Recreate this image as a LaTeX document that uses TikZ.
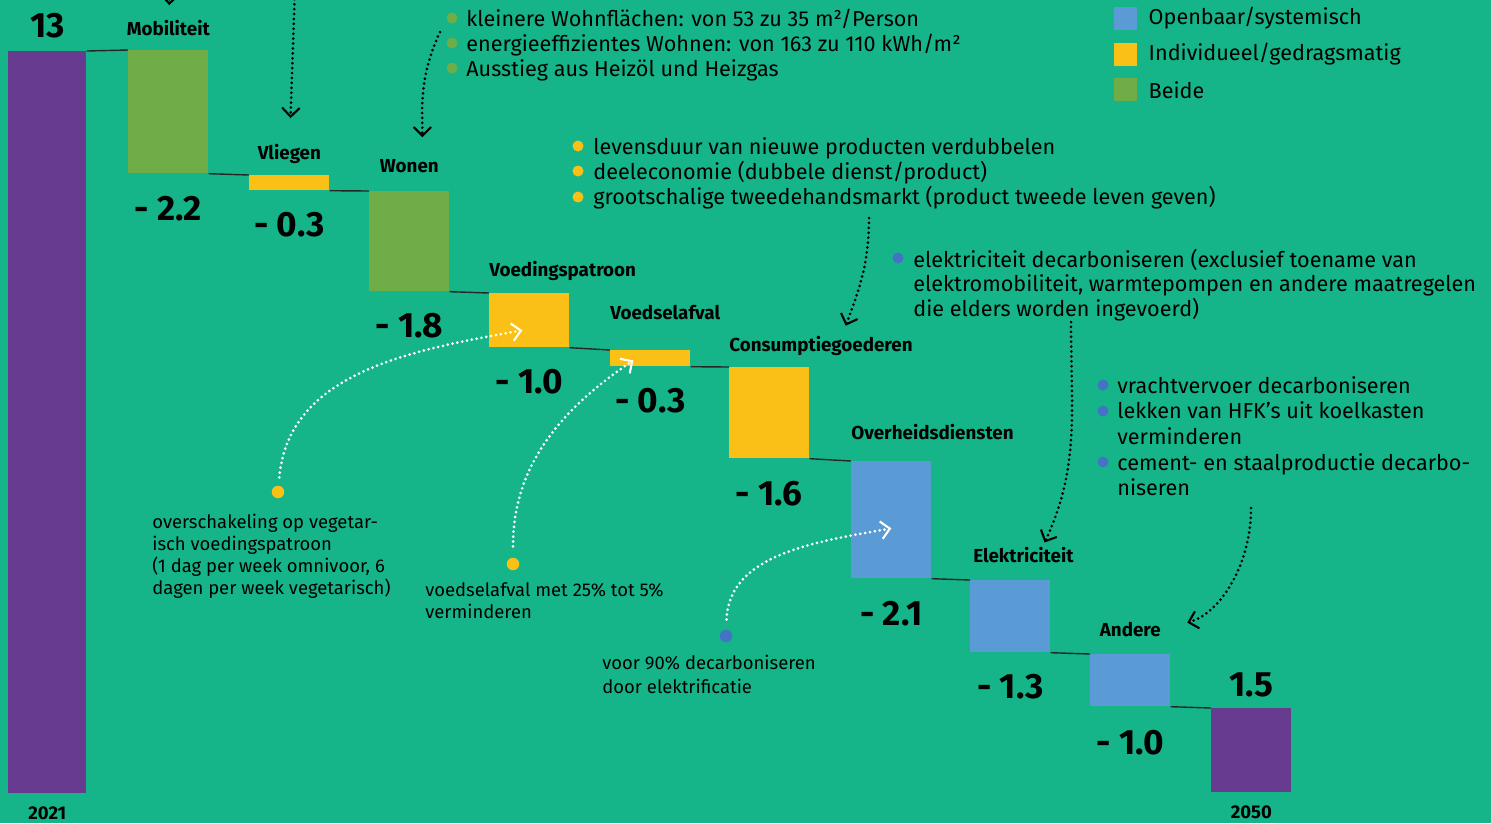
\documentclass[tikz,border=0pt]{standalone}
\usepackage{fontspec}
\setmainfont{Fira Sans}
\usetikzlibrary{positioning}
\usetikzlibrary{arrows.meta}
\definecolor{achter}{HTML}{16B589}
\definecolor{paars}{HTML}{673B8F}
\definecolor{groen}{HTML}{70AD47}
\definecolor{geel}{HTML}{FBC015}
\definecolor{blauw}{HTML}{5B9BD5}
\definecolor{stip}{HTML}{4472C4}
\tikzstyle{bar} = [rectangle, inner sep=0pt, minimum width=1.6cm, anchor=north west]
\tikzstyle{catlabel} = [inner sep=0pt, text depth=0pt, font=\bfseries\fontsize{10.7}{12}\selectfont]
\tikzstyle{amount} = [inner sep=0pt, font=\bfseries\fontsize{20}{24}\selectfont]
\tikzstyle{year} = [inner sep=0pt, font=\bfseries\fontsize{10.5}{12}\selectfont]
\tikzstyle{link} = [line width=0.8pt, black!85]
\tikzstyle{listtext} = [inner sep=0pt, anchor=north west, align=left, font=\fontsize{12.3}{14.2}\selectfont]
\tikzstyle{notetext} = [inner sep=0pt, anchor=north west, align=left, font=\fontsize{10.5}{12.5}\selectfont]
\tikzstyle{bullet} = [circle, inner sep=0pt, minimum size=0.22cm]
\tikzstyle{legbox} = [rectangle, inner sep=0pt, minimum size=0.46cm]
\tikzstyle{legtext} = [inner sep=0pt, anchor=west, font=\fontsize{12.3}{14}\selectfont]
\tikzstyle{pointer} = [line width=1.7pt, dash pattern=on 0pt off 2.8pt, line cap=round, -{Straight Barb[length=5pt, width=10pt, line width=1.2pt]}]
\tikzstyle{wpointer} = [pointer, white]
\begin{document}
\begin{tikzpicture}[x=0.02cm, y=0.02cm]

\useasboundingbox (0,0) rectangle (1491,-823);
\fill [achter] (0,0) rectangle (1491,-823);

\node (bar1) [bar, fill=paars, minimum width=1.56cm, minimum height=14.84cm] at (8,-51) {};

\node (bar2) [bar, fill=groen, minimum height=2.46cm] at (128,-50) {};

\node (bar3) [bar, fill=geel, minimum height=0.30cm] at (249,-175) {};

\node (bar4) [bar, fill=groen, minimum height=2.0cm] at (369,-191) {};

\node (bar5) [bar, fill=geel, minimum height=1.08cm] at (489,-293) {};

\node (bar6) [bar, fill=geel, minimum height=0.32cm] at (610,-350) {};

\node (bar7) [bar, fill=geel, minimum height=1.82cm] at (729,-367) {};

\node (bar8) [bar, fill=blauw, minimum height=2.34cm] at (851,-461) {};

\node (bar9) [bar, fill=blauw, minimum height=1.44cm] at (970,-580) {};

\node (bar10) [bar, fill=blauw, minimum height=1.04cm] at (1090,-654) {};

\node (bar11) [bar, fill=paars, minimum height=1.68cm] at (1211,-708) {};

\draw [link] (bar1.north east) -- (bar2.north west);
\draw [link] (bar2.south east) -- (bar3.north west);
\draw [link] (bar3.south east) -- (bar4.north west);
\draw [link] (bar4.south east) -- (bar5.north west);
\draw [link] (bar5.south east) -- (bar6.north west);
\draw [link] (bar6.south east) -- (bar7.north west);
\draw [link] (bar7.south east) -- (bar8.north west);
\draw [link] (bar8.south east) -- (bar9.north west);
\draw [link] (bar9.south east) -- (bar10.north west);
\draw [link] (bar10.south east) -- (bar11.north west);

\node (lab1) [amount, above=0.26cm of bar1] {13};
\node (yr1) [year, below=0.25cm of bar1] {2021};
\node (lab2) [catlabel, above=0.28cm of bar2] {Mobiliteit};
\node (lab3) [catlabel, above=0.3cm of bar3] {Vliegen};
\node (lab4) [catlabel, above=0.36cm of bar4] {Wonen};
\node (lab5) [catlabel, above right=0.32cm and 0cm of bar5.north west] {Voedingspatroon};
\node (lab6) [catlabel, above right=0.6cm and 0cm of bar6.north west] {Voedselafval};
\node (lab7) [catlabel, above right=0.3cm and 0cm of bar7.north west] {Consumptiegoederen};
\node (lab8) [catlabel, above right=0.42cm and 0cm of bar8.north west] {Overheidsdiensten};
\node (lab9) [catlabel, above right=0.34cm and 0.06cm of bar9.north west] {Elektriciteit};
\node (lab10) [catlabel, above=0.34cm of bar10] {Andere};
\node (lab11) [amount, above=0.22cm of bar11] {1.5};
\node (yr11) [year, below=0.25cm of bar11] {2050};

\node (val2) [amount, below=0.44cm of bar2] {- 2.2};
\node (val3) [amount, below=0.42cm of bar3] {- 0.3};
\node (val4) [amount, below=0.42cm of bar4] {- 1.8};
\node (val5) [amount, below=0.42cm of bar5] {- 1.0};
\node (val6) [amount, below=0.42cm of bar6] {- 0.3};
\node (val7) [amount, below=0.44cm of bar7] {- 1.6};
\node (val8) [amount, below=0.44cm of bar8] {- 2.1};
\node (val9) [amount, below=0.42cm of bar9] {- 1.3};
\node (val10) [amount, below=0.46cm of bar10] {- 1.0};

\node (leg1) [legbox, fill=blauw] at (1125.5,-18.5) {};
\node (leg2) [legbox, fill=geel, below=0.24cm of leg1] {};
\node (leg3) [legbox, fill=groen, below=0.24cm of leg2] {};
\node (legt1) [legtext, right=0.22cm of leg1] {Openbaar/systemisch};
\node (legt2) [legtext, right=0.22cm of leg2] {Individueel/gedragsmatig};
\node (legt3) [legtext, right=0.22cm of leg3] {Beide};

\node (won) [listtext] at (466,-9) {kleinere Wohnflächen: von 53 zu 35 m²/Person\\energieeffizientes Wohnen: von 163 zu 110 kWh/m²\\Ausstieg aus Heizöl und Heizgas};
\node (won1) [bullet, fill=groen] at (452,-18) {};
\node (won2) [bullet, fill=groen] at (452,-43) {};
\node (won3) [bullet, fill=groen] at (452,-68) {};

\node (cons) [listtext] at (593,-137) {levensduur van nieuwe producten verdubbelen\\deeleconomie (dubbele dienst/product)\\grootschalige tweedehandsmarkt (product tweede leven geven)};
\node (cons1) [bullet, fill=geel] at (578,-146) {};
\node (cons2) [bullet, fill=geel] at (578,-171) {};
\node (cons3) [bullet, fill=geel] at (578,-197) {};

\node (elek) [listtext, font=\fontsize{12.3}{13.8}\selectfont] at (913,-249) {elektriciteit decarboniseren (exclusief toename van\\elektromobiliteit, warmtepompen en andere maatregelen\\die elders worden ingevoerd)};
\node (elek1) [bullet, fill=stip] at (898,-258) {};

\node (rest) [listtext, font=\fontsize{12.3}{14.6}\selectfont] at (1117,-376) {vrachtvervoer decarboniseren\\lekken van HFK’s uit koelkasten\\verminderen\\cement- en staalproductie decarbo-\\niseren};
\node (rest1) [bullet, fill=stip] at (1103,-385) {};
\node (rest2) [bullet, fill=stip] at (1103,-411) {};
\node (rest3) [bullet, fill=stip] at (1103,-462) {};

\node (veg) [notetext] at (152,-514) {overschakeling op vegetar-\\isch voedingspatroon\\(1 dag per week omnivoor, 6\\dagen per week vegetarisch)};
\node (afv) [notetext] at (425,-582) {voedselafval met 25\% tot 5\%\\verminderen};
\node (elf) [notetext, font=\fontsize{10.5}{13.3}\selectfont] at (602,-655) {voor 90\% decarboniseren\\door elektrificatie};

\node (dot1) [bullet, fill=geel, minimum size=0.25cm] at (278,-492) {};
\node (dot2) [bullet, fill=geel, minimum size=0.25cm] at (513,-564) {};
\node (dot3) [bullet, fill=stip, minimum size=0.25cm] at (726,-636) {};

\coordinate (mobsrc) at (171,40);
\coordinate (vlisrc) at (296,40);
\coordinate (wonsrc) at (440,-32);
\coordinate (conssrc) at (869,-218);
\coordinate (eleksrc) at (1071,-322);
\coordinate (restsrc) at (1251,-508);

\draw [pointer, shorten >=0.3cm] (mobsrc) -- (lab2);
\draw [pointer, shorten >=0.52cm] (vlisrc) -- (lab3);
\draw [pointer, shorten >=0.44cm] (wonsrc) to[out=-115, in=90] ([xshift=0.26cm]lab4.north);
\draw [pointer, shorten >=0.22cm] (conssrc) to[out=-90, in=70] ([xshift=0.42cm]lab7.north);
\draw [pointer, shorten >=0.1cm] (eleksrc) to[out=-90, in=65] ([xshift=0.38cm]lab9.north);
\draw [pointer, shorten >=0.54cm] (restsrc) to[out=-90, in=15] (lab10.east);

\draw [wpointer, shorten <=0.16cm] (dot1) to[out=85, in=190] ([xshift=-0.14cm, yshift=-0.2cm]bar5.center);
\draw [wpointer, shorten <=0.22cm] (dot2) to[out=90, in=214] ([xshift=-0.34cm, yshift=-0.04cm]bar6.center);
\draw [wpointer, shorten <=0.2cm] (dot3) to[out=88, in=190] ([yshift=-0.17cm]bar8.center);

\end{tikzpicture}
\end{document}
